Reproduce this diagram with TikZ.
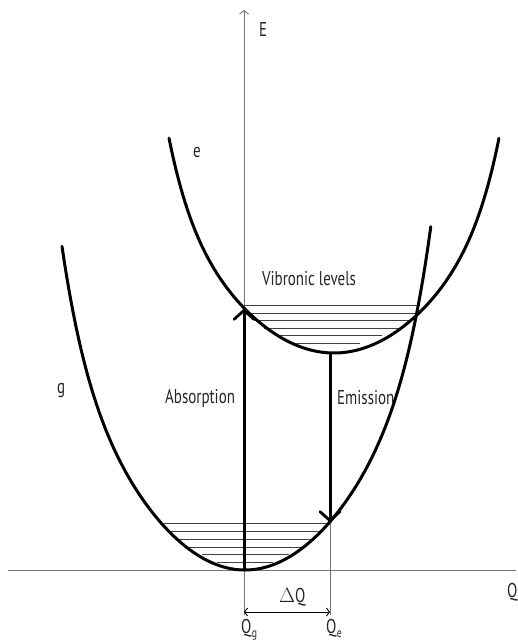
\documentclass[tikz,border=0pt]{standalone}
\usepackage{fontspec}
\setmainfont{PT Sans}[FakeStretch=0.75]
\usetikzlibrary{arrows.meta}
\begin{document}
\begin{tikzpicture}[x=1pt,y=-1pt,
 curve/.style={line width=3pt,line cap=round,line join=round},
 axisline/.style={draw=black!55,line width=0.9pt},
 lvl/.style={draw=black!75,line width=0.7pt},
 trans/.style={line width=3pt,-{Straight Barb[length=9pt,width=20pt,line width=2.8pt,round]}},
 lbl/.style={font=\fontsize{20}{24}\selectfont,text=black!85,inner sep=0pt},
 sub/.style={font=\fontsize{13}{14}\selectfont,text=black!85,inner sep=0pt},
 dq/.style={line width=0.9pt,{Straight Barb[length=3pt,width=8pt]}-{Straight Barb[length=3pt,width=8pt]}},
]
\useasboundingbox (0,0) rectangle (518,642);
% axes
\coordinate (Ebot) at (244,615);
\coordinate (Etop) at (244,10);
\coordinate (Qleft) at (8,570);
\coordinate (Qright) at (516,570);
\draw[axisline] (Qleft) -- (Qright);
\draw[axisline,-{Straight Barb[length=3.5pt,width=9pt]}] (Ebot) -- (Etop);
\coordinate (Qetop) at (330,522);
\coordinate (Qebot) at (330,615);
\draw[axisline] (Qetop) -- (Qebot);
% vibronic levels (excited)
\draw[lvl] (244,305) -- (420,305);
\draw[lvl] (246,313) -- (418,313);
\draw[lvl] (254,320) -- (410,320);
\draw[lvl] (264,328) -- (398,328);
\draw[lvl] (275,335) -- (382,335);
\draw[lvl] (293,343) -- (360,343);
% vibronic levels (ground)
\draw[lvl] (164,523) -- (330,523);
\draw[lvl] (170,531) -- (322,531);
\draw[lvl] (178,539) -- (313,539);
\draw[lvl] (189,547) -- (302,547);
\draw[lvl] (202,554) -- (289,554);
\draw[lvl] (217,562) -- (273,562);
% ground curve g
\draw[curve] plot[domain=-1.83:1.86,samples=160,smooth] ({245+100*\x},{570-66.56*\x*\x-0.801*(\x*\x)^4});
% excited curve e
\draw[curve] plot[domain=-1.65:1.65,samples=160,smooth] ({334+100*\x},{353-54.98*\x*\x-1.188*(\x*\x)^4});
% transitions
\coordinate (absBot) at (244,570);
\coordinate (absTop) at (244,309);
\coordinate (emTop) at (330,353);
\coordinate (emBot) at (330,522);
\draw[trans] (absBot) -- (absTop);
\draw[trans] (emTop) -- (emBot);
% delta Q
\coordinate (dqL) at (244,612);
\coordinate (dqR) at (330,612);
\draw[dq] (dqL) -- (dqR);
% labels
\node[lbl,anchor=base west] (lE) at (259,37) {E};
\node[lbl,anchor=base west] (le) at (193,157) {e};
\node[lbl,anchor=base west] (lg) at (57,393) {g};
\node[lbl,anchor=base west] (lvib) at (262,285) {Vibronic levels};
\node[lbl,anchor=base west] (labs) at (165,403) {Absorption};
\node[lbl,anchor=base west] (lem) at (337,404) {Emission};
\node[lbl,anchor=base west] (ldq) at (279,602) {$\Delta$Q};
\node[lbl,anchor=base west] (lQg) at (241,633) {Q};
\node[sub,anchor=base west] (lQgs) at (lQg.base east) [yshift=-4pt] {g};
\node[lbl,anchor=base west] (lQe) at (326,633) {Q};
\node[sub,anchor=base west] (lQes) at (lQe.base east) [yshift=-4pt] {e};
\node[lbl,anchor=base west] (lQ) at (507,597) {Q};
\end{tikzpicture}
\end{document}
